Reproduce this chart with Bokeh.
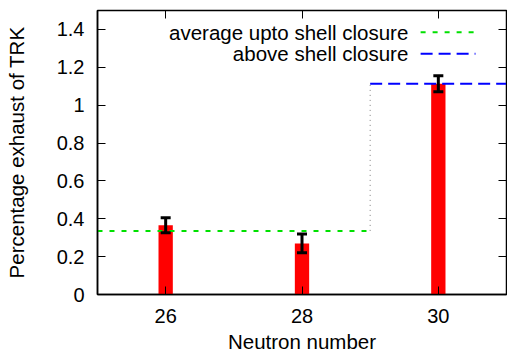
from bokeh.plotting import figure
from bokeh.models import (ColumnDataSource, Whisker, TeeHead, FixedTicker, LinearAxis,
                          Label, Arrow, Range1d)
from bokeh.embed import file_html
from bokeh.resources import INLINE

# data
neutrons = [26, 28, 30]
exhaust = [0.366, 0.27, 1.113]
errors = [0.04, 0.05, 0.042]
avg_below = 0.336   # average upto shell closure (N=26..28)
above = 1.113       # above shell closure (N=30)
shell_edge = 29
x_ticks = [26, 28, 30]
y_ticks = [0, 0.2, 0.4, 0.6, 0.8, 1.0, 1.2, 1.4]
legend_labels = ["average upto shell closure", "above shell closure"]
x_title = "Neutron number"
y_title = "Percentage exhaust of TRK"

FONT = "Liberation Sans"
FS = "20px"
FS_L = "20.5px"

p = figure(width=507, height=358, output_backend="svg", toolbar_location=None,
           x_range=Range1d(25, 31), y_range=Range1d(0, 1.5),
           min_border_left=97, min_border_right=1, min_border_top=10, min_border_bottom=64)
p.background_fill_color = "white"
p.border_fill_color = "white"
p.outline_line_color = "black"
p.outline_line_width = 1.5
p.grid.visible = False

src = ColumnDataSource(dict(x=neutrons, y=exhaust,
                            lo=[v - e for v, e in zip(exhaust, errors)],
                            hi=[v + e for v, e in zip(exhaust, errors)]))

p.vbar(x="x", top="y", bottom=0, width=0.21, source=src, fill_color="#ff0000", line_color=None)

# average lines
p.line([25, shell_edge], [avg_below, avg_below], line_color="#00e000", line_width=2, line_dash="5 7")
p.line([shell_edge, 31], [above, above], line_color="#0000ff", line_width=2, line_dash="12 6")
p.line([shell_edge, shell_edge], [avg_below, above], line_color="#808080", line_width=1, line_dash="1 4")

w = Whisker(base="x", lower="lo", upper="hi", source=src, line_color="black", line_width=3,
            level="overlay",
            upper_head=TeeHead(size=10, line_width=3, line_color="black"),
            lower_head=TeeHead(size=10, line_width=3, line_color="black"))
p.add_layout(w)

# axes
xa = p.xaxis[0]
xa.ticker = FixedTicker(ticks=x_ticks)
xa.axis_label = x_title
ya = p.yaxis[0]
ya.ticker = FixedTicker(ticks=y_ticks)
ya.major_label_overrides = {0: "0", 1: "1", 0.2: "0.2", 0.4: "0.4", 0.6: "0.6",
                            0.8: "0.8", 1.2: "1.2", 1.4: "1.4"}
ya.axis_label = y_title
for ax in (xa, ya):
    ax.major_tick_in = 8
    ax.major_tick_out = 0
    ax.minor_tick_in = 0
    ax.minor_tick_out = 0
    ax.major_tick_line_color = "black"
    ax.major_tick_line_width = 1
    ax.axis_line_color = "black"
    ax.axis_line_width = 1.5
    ax.major_label_text_font = FONT
    ax.major_label_text_font_size = FS
    ax.major_label_text_color = "black"
    ax.axis_label_text_font = FONT
    ax.axis_label_text_font_size = FS_L
    ax.axis_label_text_font_style = "normal"
    ax.axis_label_text_color = "black"
xa.major_label_standoff = 14
xa.axis_label_standoff = 4
ya.major_label_standoff = 13
ya.axis_label_standoff = 26

top = LinearAxis(ticker=FixedTicker(ticks=x_ticks),
                 major_label_overrides={t: "" for t in x_ticks},
                 major_tick_in=8, major_tick_out=0, minor_tick_in=0, minor_tick_out=0,
                 major_label_standoff=0, axis_line_color="black", major_tick_line_color="black")
right = LinearAxis(ticker=FixedTicker(ticks=y_ticks),
                   major_label_overrides={t: "" for t in y_ticks},
                   major_tick_in=8, major_tick_out=0, minor_tick_in=0, minor_tick_out=0,
                   major_label_standoff=0, axis_line_color="black", major_tick_line_color="black")
p.add_layout(top, "above")
p.add_layout(right, "right")

# legend (gnuplot style: text left, sample right)
leg_y = [1.385, 1.271]
colors = ["#00e000", "#0000ff"]
dashes = ["5 7", "12 6"]
for lab, yy, c, d in zip(legend_labels, leg_y, colors, dashes):
    p.add_layout(Label(x=29.56, y=yy, text=lab, text_align="right", text_baseline="middle",
                       text_font=FONT, text_font_size=FS_L, text_color="black"))
    p.add_layout(Arrow(x_start=29.74, y_start=yy, x_end=30.545, y_end=yy, start=None, end=None,
                       line_color=c, line_width=2, line_dash=d))

open("out.html", "w").write(file_html(p, INLINE))
